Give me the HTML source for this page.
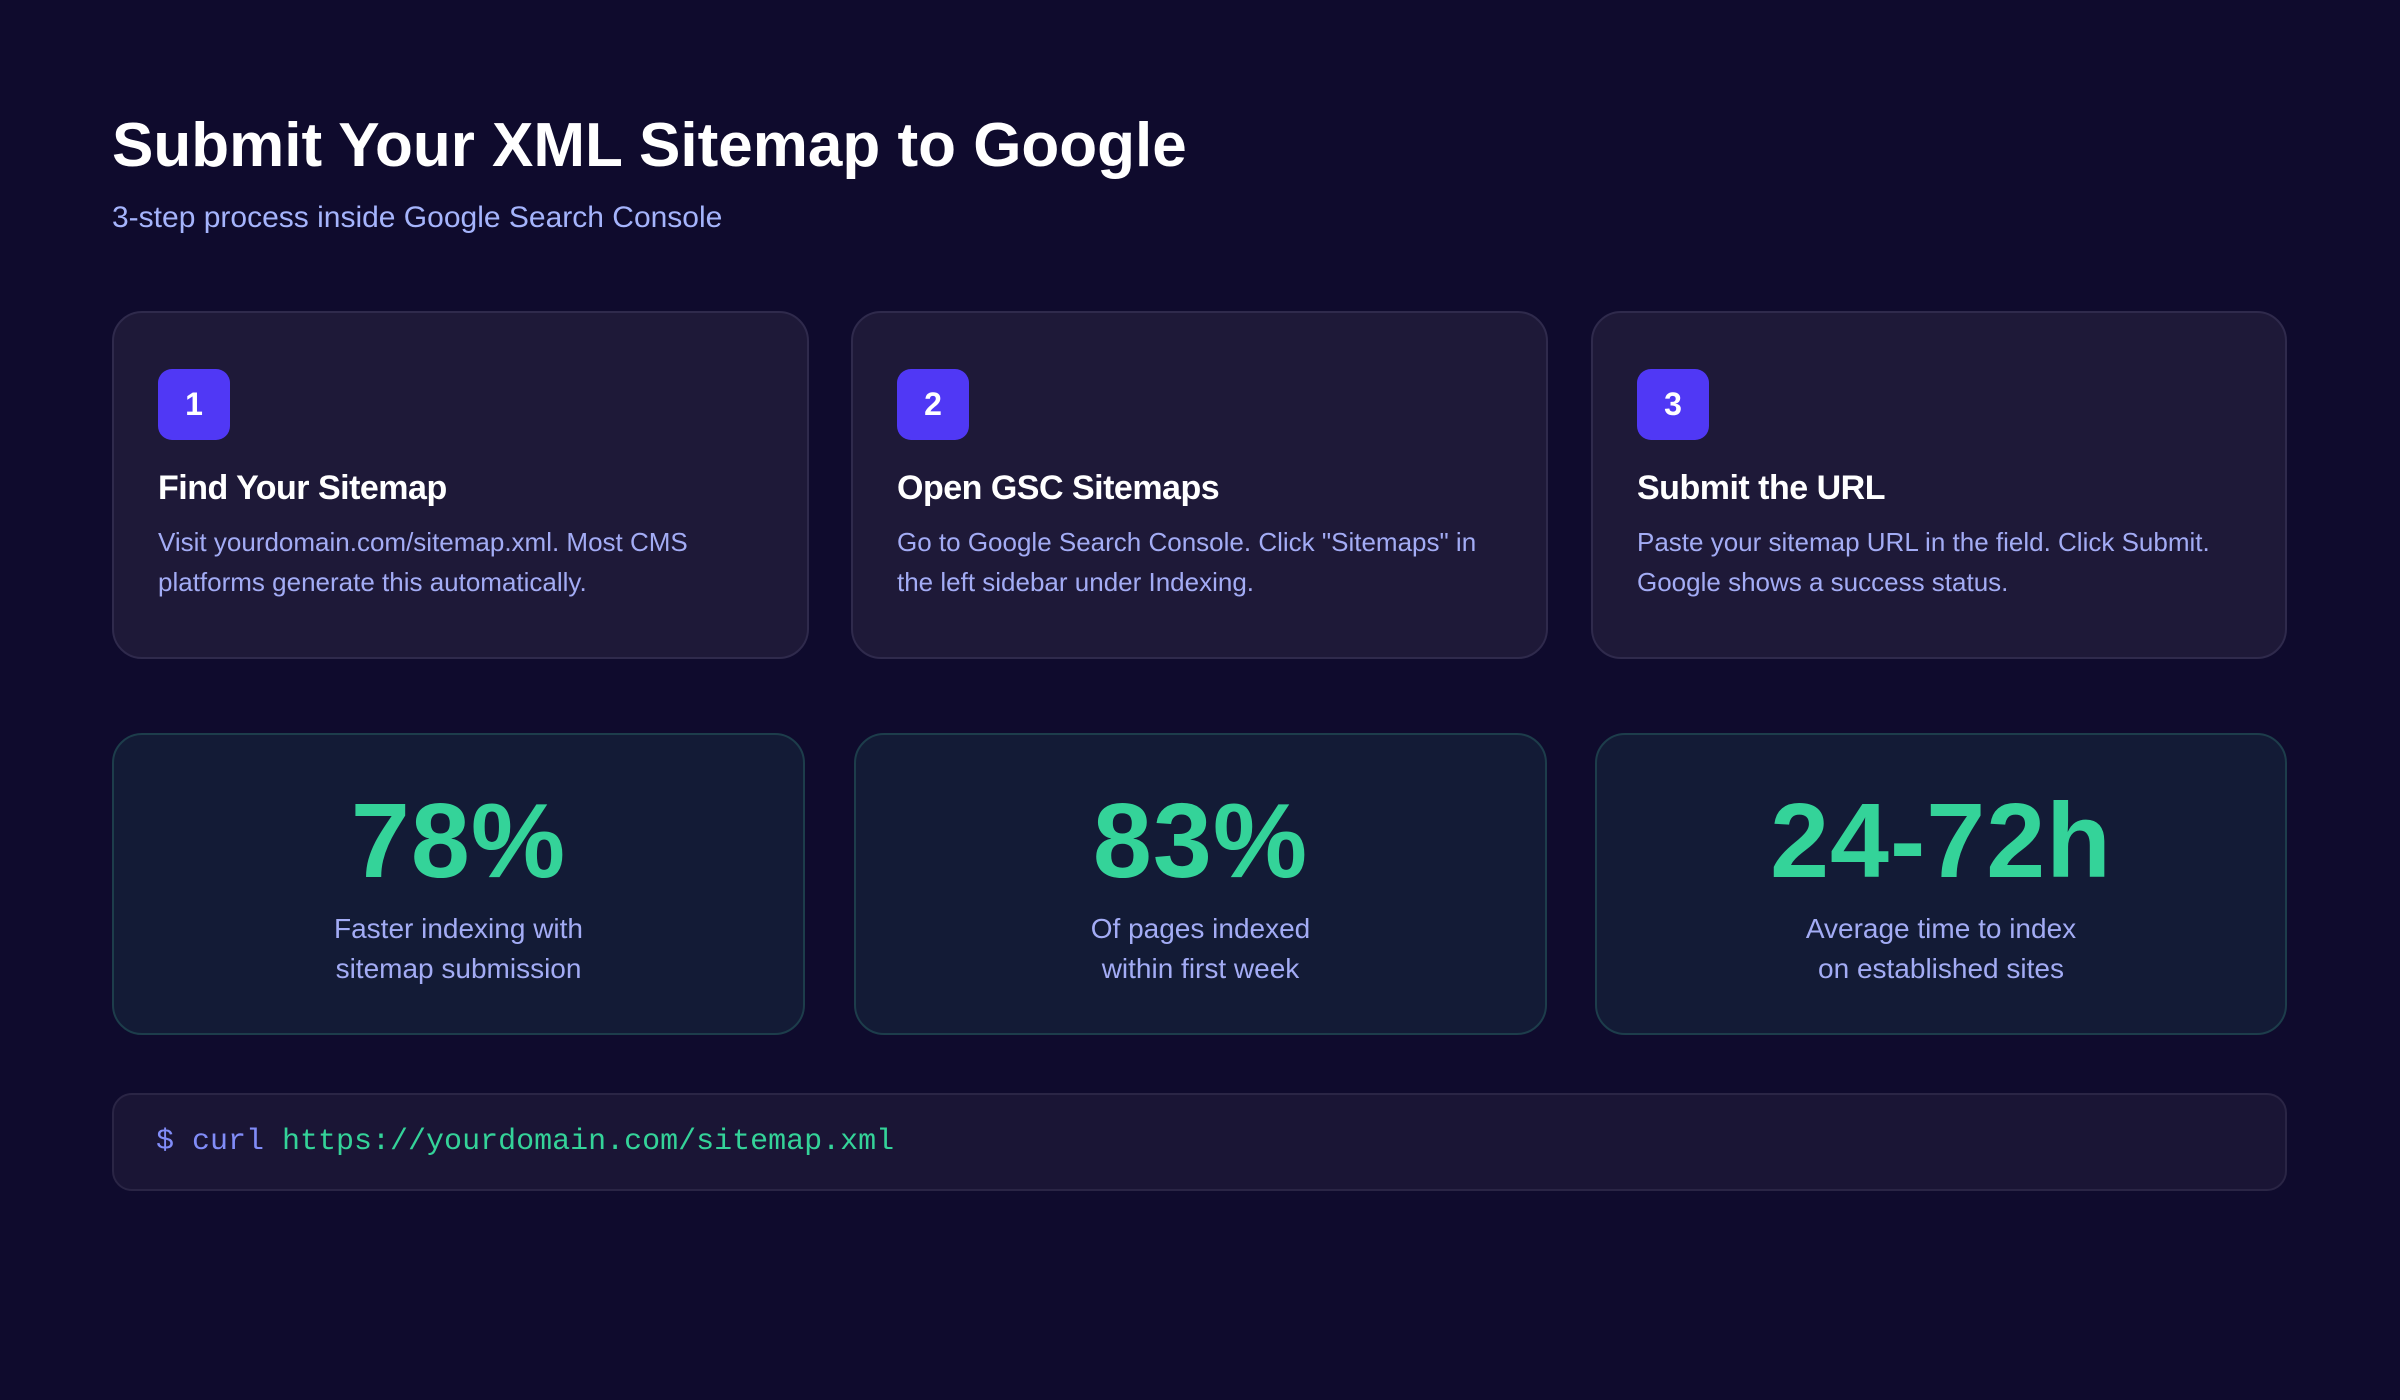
<!DOCTYPE html>
<html><head><meta charset="utf-8"><style>
*{margin:0;padding:0;box-sizing:border-box}
body{width:2400px;height:1400px;background:#0f0b2d;font-family:"Liberation Sans",sans-serif;position:relative;overflow:hidden}
.abs{position:absolute}
h1{position:absolute;left:112px;top:110px;font-size:62px;font-weight:700;color:#fff;letter-spacing:0px}
.sub{left:112px;top:201px;font-size:30px;color:#a5b4fc}
.c1{background:#1e1938;border:2px solid #2f2a4c;border-radius:30px;top:311px;height:348px;width:697px}
.badge{position:absolute;left:44px;top:56px;width:72px;height:71px;border-radius:14px;background:#5038f5;color:#fff;font-weight:700;font-size:32px;display:flex;align-items:center;justify-content:center}
.c1 h3{position:absolute;left:44px;top:156px;font-size:34px;color:#fff;font-weight:700;letter-spacing:-0.5px}
.c1 p{position:absolute;left:44px;top:209px;font-size:26px;line-height:40px;color:#a3acf5;width:620px}
.c2{background:#131b36;border:2px solid #1d3d4b;border-radius:30px;top:733px;height:302px;width:693px;text-align:center}
.c2 .n{position:absolute;left:0;right:0;top:46px;font-size:106px;font-weight:700;color:#34d399;letter-spacing:1px}
.c2 .l{position:absolute;left:0;right:0;top:174px;font-size:28px;line-height:40px;color:#a3acf5}
.code{left:112px;top:1093px;width:2175px;height:98px;background:#1a1535;border:2px solid #2a2545;border-radius:20px;font-family:"Liberation Mono",monospace;font-size:30px;padding-left:42px;line-height:94px;color:#34d399}
.code span{color:#818cf8}
</style></head><body>
<h1>Submit Your XML Sitemap to Google</h1>
<div class="abs sub">3-step process inside Google Search Console</div>

<div class="abs c1" style="left:112px"><div class="badge">1</div><h3>Find Your Sitemap</h3><p>Visit yourdomain.com/sitemap.xml. Most CMS platforms generate this automatically.</p></div>
<div class="abs c1" style="left:851px"><div class="badge">2</div><h3>Open GSC Sitemaps</h3><p>Go to Google Search Console. Click "Sitemaps" in the left sidebar under Indexing.</p></div>
<div class="abs c1" style="left:1591px;width:696px"><div class="badge">3</div><h3>Submit the URL</h3><p>Paste your sitemap URL in the field. Click Submit. Google shows a success status.</p></div>

<div class="abs c2" style="left:112px"><div class="n">78%</div><div class="l">Faster indexing with<br>sitemap submission</div></div>
<div class="abs c2" style="left:854px"><div class="n">83%</div><div class="l">Of pages indexed<br>within first week</div></div>
<div class="abs c2" style="left:1595px;width:692px"><div class="n">24-72h</div><div class="l">Average time to index<br>on established sites</div></div>

<div class="abs code"><span>$ curl</span> https://yourdomain.com/sitemap.xml</div>
</body></html>
